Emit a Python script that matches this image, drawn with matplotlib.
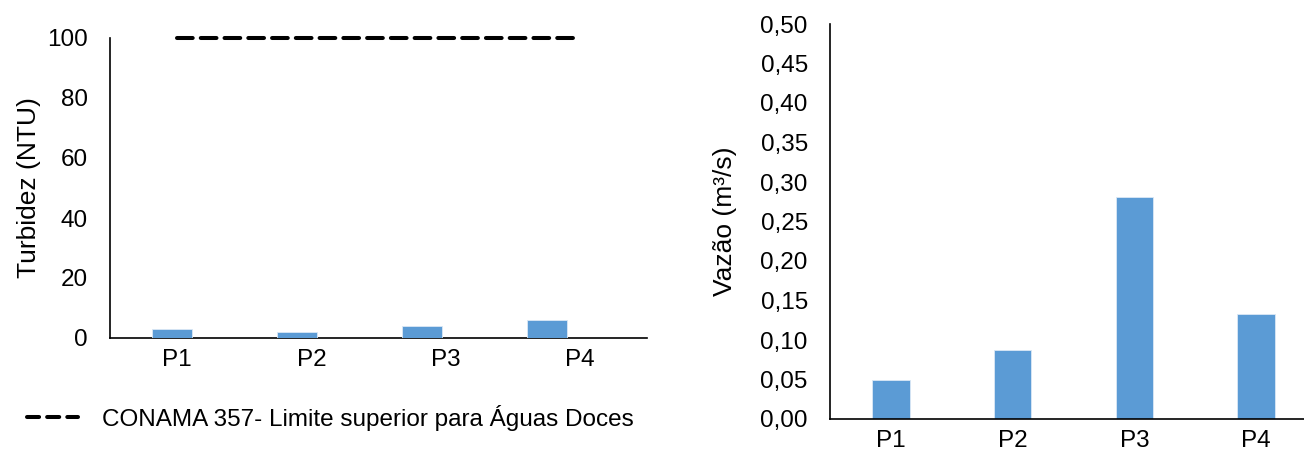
import matplotlib.pyplot as plt
from matplotlib.lines import Line2D
import numpy as np

plt.rcParams['font.family'] = ['Liberation Sans', 'DejaVu Sans']

# dados
pontos = ['P1', 'P2', 'P3', 'P4']
turbidez = [3.1, 2.1, 4.1, 6.1]
limite_conama = [100, 100, 100, 100]
vazao = [0.050, 0.087, 0.281, 0.133]
ticks_vazao = [0.00, 0.05, 0.10, 0.15, 0.20, 0.25, 0.30, 0.35, 0.40, 0.45, 0.50]

azul = '#5B9BD5'
fs = 17.5
fs_lab = 19
W, H = 1304, 458
fig = plt.figure(figsize=(W / 100, H / 100), dpi=100)

# painel da turbidez
ax1 = fig.add_axes([110 / W, 1 - 338 / H, 537 / W, 300 / H])
ax1.set_xlim(-0.5, 3.5)
ax1.set_ylim(0, 100)
ax1.set_xticks(range(4))
ax1.set_xticklabels(pontos)
ax1.set_yticks([0, 20, 40, 60, 80, 100])
ax1.set_ylabel('Turbidez (NTU)', fontsize=fs_lab, labelpad=4)
ax1.tick_params(axis='y', length=0, pad=16, labelsize=fs)
ax1.tick_params(axis='x', length=0, pad=8, labelsize=fs)
for s in ['top', 'right']:
    ax1.spines[s].set_visible(False)
for s in ['left', 'bottom']:
    ax1.spines[s].set_linewidth(1.2)

# barras num eixo secundário (deslocadas como no original)
axb = ax1.twiny()
axb.set_xlim(-0.5, 3.8)
axb.set_ylim(0, 100)
axb.bar(range(4), turbidez, width=0.32, color=azul, edgecolor='#dbe8f5', linewidth=0.6)
axb.axis('off')

ax1.plot(range(4), limite_conama, color='black', linewidth=2.9,
         linestyle=(0, (3.9, 2.0)), dash_capstyle='round', clip_on=False)
# legenda com traço mais curto
proxy = Line2D([], [], color='black', linewidth=2.9, linestyle=(0, (3.0, 2.0)),
               dash_capstyle='round')
fig.legend(handles=[proxy], labels=['CONAMA 357- Limite superior para Águas Doces'],
           loc='center left', bbox_to_anchor=(5 / W, 1 - 418 / H),
           frameon=False, fontsize=fs, handlelength=2.1, handletextpad=1.0)

# painel da vazão
ax2 = fig.add_axes([830 / W, 1 - 419 / H, 487 / W, 395 / H])
ax2.bar(range(4), vazao, width=0.31, color=azul, edgecolor='#dbe8f5', linewidth=0.6)
ax2.set_xlim(-0.5, 3.5)
ax2.set_ylim(0, 0.5)
ax2.set_xticks(range(4))
ax2.set_xticklabels(pontos)
ax2.set_yticks(ticks_vazao)
ax2.set_yticklabels([f'{t:.2f}'.replace('.', ',') for t in ticks_vazao])
ax2.set_ylabel('Vazão (m³/s)', fontsize=fs_lab, labelpad=17)
ax2.tick_params(axis='y', length=0, pad=16, labelsize=fs)
ax2.tick_params(axis='x', length=0, pad=8, labelsize=fs)
for s in ['top', 'right']:
    ax2.spines[s].set_visible(False)
for s in ['left', 'bottom']:
    ax2.spines[s].set_linewidth(1.2)

fig.savefig('out.png', dpi=100)
